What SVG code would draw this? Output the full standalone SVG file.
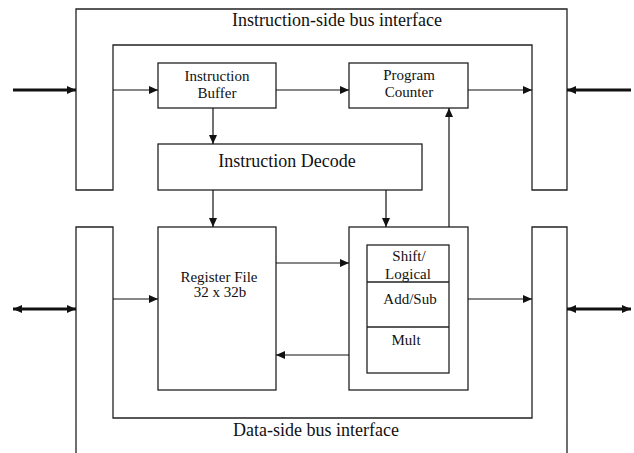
<svg xmlns="http://www.w3.org/2000/svg" width="634" height="453" viewBox="0 0 634 453">
<defs>
<marker id="ah" markerUnits="userSpaceOnUse" markerWidth="9" markerHeight="8" refX="9" refY="4" orient="auto-start-reverse"><path d="M0,0 L9,4 L0,8 z" fill="#111"/></marker>
</defs>
<style>
.box{fill:#fff;stroke:#222;stroke-width:1.3}
.frame{fill:none;stroke:#222;stroke-width:1.3}
.ln{fill:none;stroke:#111;stroke-width:1.2;marker-end:url(#ah)}
.thick{fill:none;stroke:#111;stroke-width:3;marker-end:url(#ah)}
.bi{marker-start:url(#ah)}
text{font-family:"Liberation Serif","Times New Roman",serif;fill:#111;text-anchor:middle}
.s{font-size:15px}
.l{font-size:18px}
</style>
<rect width="634" height="453" fill="#fff"/>
<g id="isbus">
<path class="frame" d="M76,190 L76,9 L567,9 L567,190 L532,190 L532,45 L113,45 L113,190 Z"/>
<text class="l" x="337" y="26">Instruction-side bus interface</text>
</g>
<g id="dsbus">
<path class="frame" d="M76,453 L76,227 L113,227 L113,418 L532,418 L532,227 L567,227 L567,453"/>
<text class="l" x="316" y="436">Data-side bus interface</text>
</g>
<g id="ibuf">
<rect class="box" x="158" y="63" width="118" height="45"/>
<text class="s" x="217" y="81">Instruction</text>
<text class="s" x="217" y="98">Buffer</text>
</g>
<g id="pc">
<rect class="box" x="349" y="63" width="119" height="45"/>
<text class="s" x="409" y="80">Program</text>
<text class="s" x="409" y="97">Counter</text>
</g>
<g id="decode">
<rect class="box" x="158" y="144" width="264" height="46"/>
<text class="l" x="287" y="167">Instruction Decode</text>
</g>
<g id="regfile">
<rect class="box" x="158" y="227" width="118" height="163"/>
<text class="s" x="219" y="282">Register File</text>
<text class="s" x="220" y="297">32 x 32b</text>
</g>
<g id="alu">
<rect class="box" x="349" y="227" width="119" height="163"/>
<rect class="box" x="367" y="245" width="82" height="128"/>
<line class="frame" x1="367" y1="282" x2="449" y2="282"/>
<line class="frame" x1="367" y1="327" x2="449" y2="327"/>
<text class="s" x="409" y="261">Shift/</text>
<text class="s" x="408" y="279">Logical</text>
<text class="s" x="410" y="304">Add/Sub</text>
<text class="s" x="406" y="345">Mult</text>
</g>
<g id="connectors">
<line class="thick" x1="13" y1="90" x2="76" y2="90"/>
<line class="thick" x1="631" y1="90" x2="567" y2="90"/>
<line class="ln" x1="113" y1="90" x2="158" y2="90"/>
<line class="ln" x1="276" y1="90" x2="349" y2="90"/>
<line class="ln" x1="468" y1="90" x2="532" y2="90"/>
<line class="ln" x1="213" y1="108" x2="213" y2="144"/>
<line class="ln" x1="213" y1="190" x2="213" y2="227"/>
<line class="ln" x1="386" y1="190" x2="386" y2="227"/>
<line class="ln" x1="449" y1="227" x2="449" y2="108"/>
<line class="thick bi" x1="13" y1="309" x2="76" y2="309"/>
<line class="thick bi" x1="567" y1="309" x2="631" y2="309"/>
<line class="ln" x1="113" y1="299" x2="158" y2="299"/>
<line class="ln" x1="276" y1="263" x2="349" y2="263"/>
<line class="ln" x1="349" y1="355" x2="276" y2="355"/>
<line class="ln" x1="468" y1="299" x2="532" y2="299"/>
</g>
</svg>
